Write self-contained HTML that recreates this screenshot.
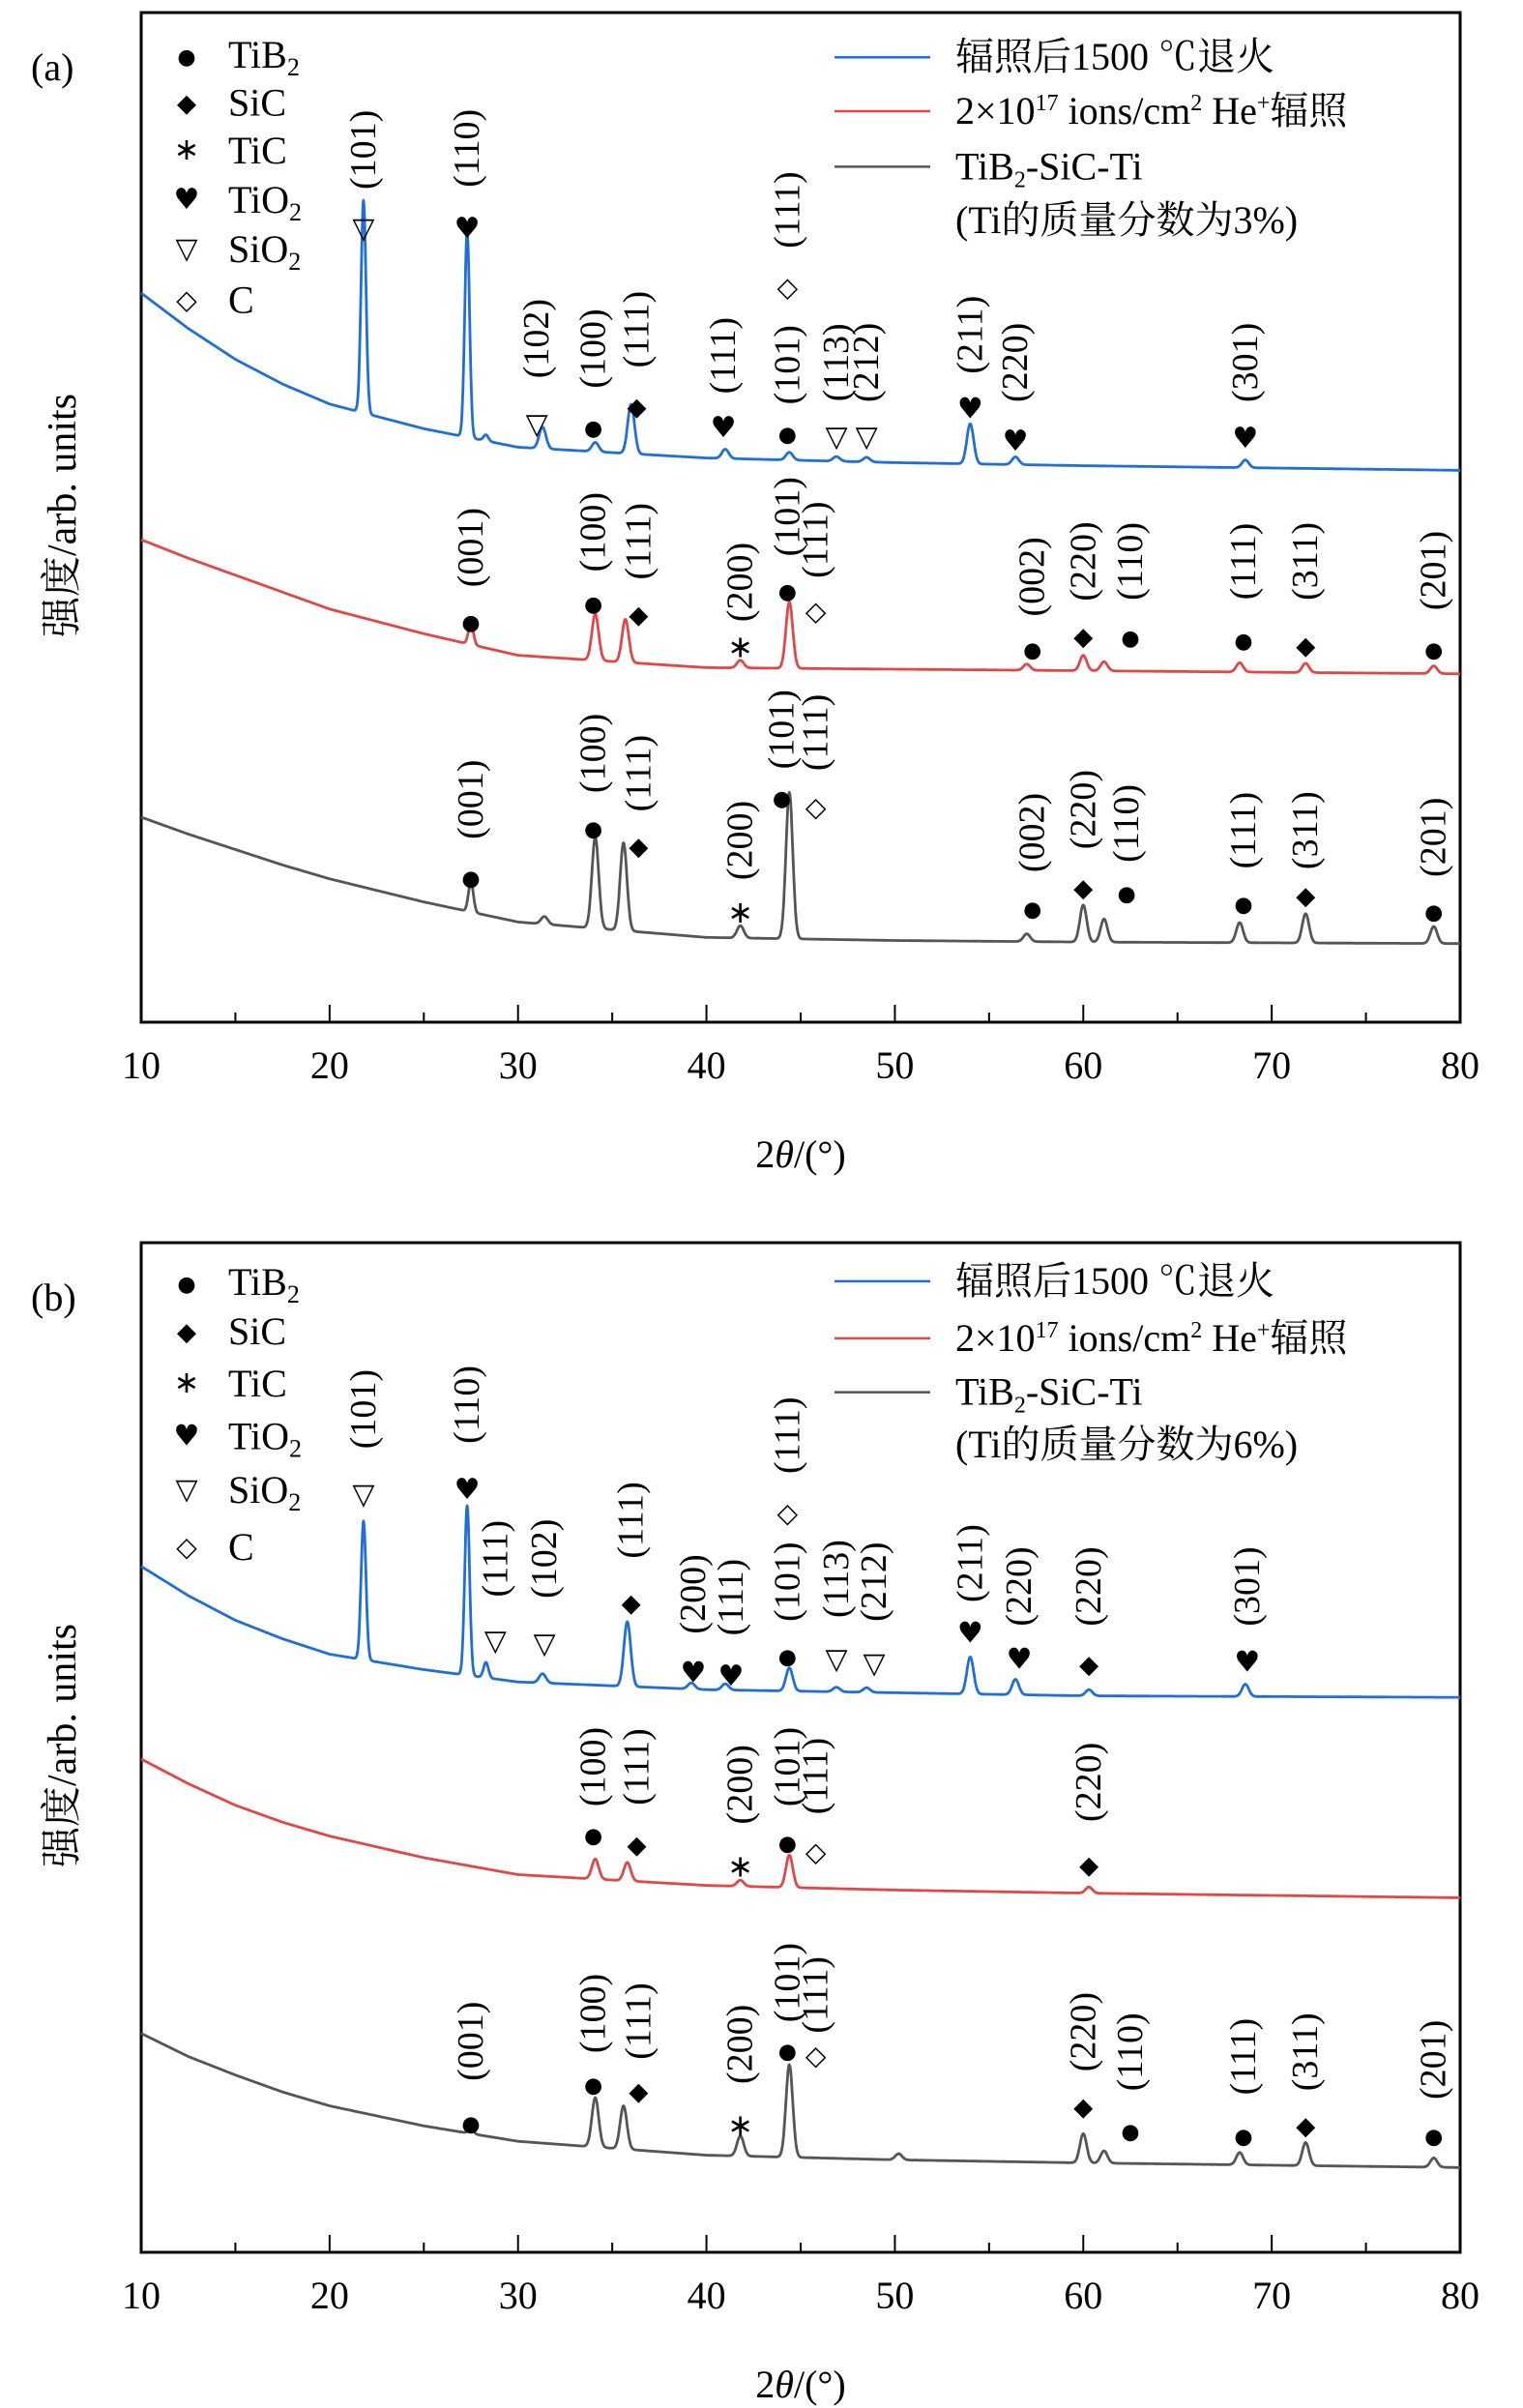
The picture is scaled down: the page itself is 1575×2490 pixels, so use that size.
<!DOCTYPE html>
<html><head><meta charset="utf-8">
<style>
html,body{margin:0;padding:0;background:#fff;}
svg{display:block;font-family:"Liberation Serif","Noto Serif CJK SC",serif;}
</style></head>
<body>
<svg id="chart" width="1575" height="2490" viewBox="0 0 1575 2490" xmlns="http://www.w3.org/2000/svg"></svg>
<script>
// ---- axis / tick data ----
const xTicks = [10,20,30,40,50,60,70,80];
const xMinor = [15,25,35,45,55,65,75];
// baseline sample points (2θ) and values (a.u.)
const baseX = [10,12.5,15,17.5,20,25,30,40,50,60,80];
// Panel a
const aBlueBase = [473,450,430,414,401,385,373,366,363,361,358];
const aRedBase  = [313,301,290,279,268,252,238,230,229,228,226];
const aGrayBase = [133,122,112,102,93,78,65,55,53,52,51];
const aBluePeakPos = [21.8,27.3,28.3,31.3,34.1,36.0,41.0,44.4,46.9,48.5,54.0,56.4,68.6];
const aBluePeakH   = [138,133,4,14,6,32,6,5,3,3,26,5,5];
const aRedPeakPos  = [27.5,34.1,35.7,41.8,44.4,57.0,60.0,61.1,68.3,71.8,78.6];
const aRedPeakH    = [14,30,28,5,43,4,10,6,6,6,5];
const aGrayPeakPos = [27.5,31.4,34.1,35.6,41.8,44.4,57.0,60.0,61.1,68.3,71.8,78.6];
const aGrayPeakH   = [20,5,59,57,8,95,5,24,15,13,19,11];
// Panel b
const bBlueBase = [445,426,410,398,388,378,370,365,363,361,360];
const bRedBase  = [320,304,290,279,270,256,245,238,235,233,230];
const bGrayBase = [142,127,115,104,95,82,72,63,60,58,55];
const bBluePeakPos = [21.8,27.3,28.3,31.3,35.8,39.2,41.0,44.4,46.9,48.5,54.0,56.4,60.3,68.6];
const bBluePeakH   = [90,110,10,6,42,4,4,15,3,3,24,10,4,8];
const bRedPeakPos  = [34.1,35.8,41.8,44.4,60.3];
const bRedPeakH    = [13,12,4,21,4];
const bGrayPeakPos = [27.5,34.1,35.6,41.8,44.4,50.2,60.0,61.1,68.3,71.8,78.6];
const bGrayPeakH   = [4,32,28,13,60,4,19,8,8,15,6];

const colors = ['#1f6fd6','#e04848','#555555'];

// annotations: [2θ, label bottom y (disp), label top y (disp), marker y (disp), label, symbol]
const annA = [
 [21.8,132,62,148,'(101)','▽'],[27.3,130,62,148,'(110)','♥'],[31.0,256,183,275,'(102)','▽'],
 [34.0,262,190,276,'(100)','●'],[36.3,250,177,263,'(111)','◆'],[40.9,265,196,277,'(111)','♥'],
 [44.3,268,205,280,'(101)','●'],[44.3,172,100,186,'(111)','◇'],[46.9,270,200,283,'(113)','▽'],
 [48.5,270,200,283,'(212)','▽'],[54.0,252,182,265,'(211)','♥'],[56.4,270,200,286,'(220)','♥'],
 [68.6,270,200,284,'(301)','♥'],
 [27.5,388,322,402,'(001)','●'],[34.0,378,312,390,'(100)','●'],[36.4,384,318,398,'(111)','◆'],
 [41.8,410,345,420,'(200)','∗'],[44.3,370,300,382,'(101)','●'],[45.8,385,315,396,'(111)','◇'],
 [57.3,408,340,420,'(002)','●'],[60.0,398,330,412,'(220)','◆'],[62.5,398,330,412,'(110)','●'],
 [68.5,398,330,414,'(111)','●'],[71.8,398,330,418,'(311)','◆'],[78.6,405,335,420,'(201)','●'],
 [27.5,552,485,568,'(001)','●'],[34.0,522,455,536,'(100)','●'],[36.4,535,468,548,'(111)','◆'],
 [41.8,578,512,592,'(200)','∗'],[44.0,506,440,516,'(101)','●'],[45.8,510,440,523,'(111)','◇'],
 [57.3,575,505,588,'(002)','●'],[60.0,560,490,575,'(220)','◆'],[62.3,568,500,578,'(110)','●'],
 [68.5,572,505,585,'(111)','●'],[71.8,572,505,580,'(311)','◆'],[78.6,576,510,590,'(201)','●']
];
const annB = [
 [21.8,958,888,978,'(101)','▽'],[27.3,955,885,975,'(110)','♥'],[28.8,1055,985,1073,'(111)','▽'],
 [31.4,1055,985,1075,'(102)','▽'],[36.0,1030,960,1048,'(111)','◆'],[39.3,1078,1008,1094,'(200)','♥'],
 [41.3,1080,1010,1096,'(111)','♥'],[44.3,1070,1000,1082,'(101)','●'],[44.3,975,905,990,'(111)','◇'],
 [46.9,1068,998,1085,'(113)','▽'],[48.9,1070,1000,1088,'(212)','▽'],[54.0,1058,988,1068,'(211)','♥'],
 [56.6,1073,1003,1085,'(220)','♥'],[60.3,1073,1003,1088,'(220)','◆'],[68.7,1073,1003,1087,'(301)','♥'],
 [34.0,1190,1120,1198,'(100)','●'],[36.3,1190,1120,1205,'(111)','◆'],[41.8,1200,1133,1220,'(200)','∗'],
 [44.3,1190,1120,1203,'(101)','●'],[45.8,1196,1126,1210,'(111)','◇'],[60.3,1200,1130,1218,'(220)','◆'],
 [27.5,1368,1298,1385,'(001)','●'],[34.0,1350,1280,1360,'(100)','●'],[36.4,1355,1285,1365,'(111)','◆'],
 [41.8,1370,1300,1388,'(200)','∗'],[44.3,1330,1260,1338,'(101)','●'],[45.8,1338,1268,1342,'(111)','◇'],
 [60.0,1362,1292,1375,'(220)','◆'],[62.5,1375,1305,1390,'(110)','●'],[68.5,1378,1308,1393,'(111)','●'],
 [71.8,1375,1305,1387,'(311)','◆'],[78.6,1380,1310,1393,'(201)','●']
];

const NS='http://www.w3.org/2000/svg';
const svg=document.getElementById('chart');
const L=146,R=1510;
const K=1.594;
const symSize={'●':22,'◆':26,'∗':32,'♥':30,'▽':30,'◇':28};
function xs(d){return L+(d-10)/70*(R-L);}
function mk(tag,attrs,parent){const e=document.createElementNS(NS,tag);for(const k in attrs)e.setAttribute(k,attrs[k]);(parent||svg).appendChild(e);return e;}
function interp(xa,ya,x){for(let i=0;i<xa.length-1;i++){if(x<=xa[i+1]){const t=(x-xa[i])/(xa[i+1]-xa[i]);return ya[i]+t*(ya[i+1]-ya[i]);}}return ya[ya.length-1];}
function val(base,pp,ph,x){let v=interp(baseX,base,x);for(let i=0;i<pp.length;i++){const s=(pp[i]<30?0.13:0.18);v+=ph[i]*Math.exp(-0.5*((x-pp[i])/s)**2);}return v;}

function panel(p){
  const top=p.top,bottom=p.top+1044;
  const dispToReal=y=>top+(y-p.dispTop)*K;
  const yv=v=>bottom-v*K;
  const g=mk('g',{});
  
  
  const frame=mk('rect',{x:L,y:top,width:R-L,height:bottom-top,fill:'none',stroke:'#000','stroke-width':3},g);
  
  
  p.series.forEach((s,si)=>{
    let d='';
    for(let x=10;x<=80.0001;x+=0.025){d+=(d?'L':'M')+xs(x).toFixed(1)+','+yv(val(s[0],s[1],s[2],x)).toFixed(1);}
    const path=mk('path',{d:d,fill:'none',stroke:colors[si],'stroke-width':2.8,'stroke-linejoin':'round'},g);
    
    
  });
  xTicks.forEach(t=>{
    const l=mk('line',{x1:xs(t),x2:xs(t),y1:bottom,y2:bottom-18,stroke:'#000','stroke-width':2},g);
    
    
    const tx=mk('text',{x:xs(t),y:bottom+58,'font-size':40,'text-anchor':'middle'},g);
    tx.textContent=t;
    
    
  });
  xMinor.forEach(t=>{
    const l=mk('line',{x1:xs(t),x2:xs(t),y1:bottom,y2:bottom-10,stroke:'#000','stroke-width':2},g);
    
    
  });
  const xl=mk('text',{x:(L+R)/2,y:bottom+150,'font-size':40,'text-anchor':'middle'},g);
  xl.innerHTML='2<tspan font-style="italic">θ</tspan>/(°)';
  
  
  const yc=top+520;
  const yl=mk('text',{x:0,y:0,'font-size':42,'text-anchor':'middle',transform:`translate(78,${yc}) rotate(-90)`},g);
  yl.textContent='强度/arb. units';
  
  
  const pl=mk('text',{x:32,y:top+70,'font-size':40},g);
  pl.textContent='('+p.id+')';
  
  
  const phases=['TiB<tspan font-size="26" dy="8">2</tspan>','SiC','TiC','TiO<tspan font-size="26" dy="8">2</tspan>','SiO<tspan font-size="26" dy="8">2</tspan>','C'];
  const syms=['●','◆','∗','♥','▽','◇'];
  p.legRows.forEach((ry,i)=>{
    const yy=dispToReal(ry);
    const s=mk('text',{x:193,y:yy+10,'font-size':symSize[syms[i]],'text-anchor':'middle','font-family':'DejaVu Sans, sans-serif'},g);
    s.textContent=syms[i];
    
    
    const t=mk('text',{x:236,y:yy+14,'font-size':40},g);
    t.innerHTML=phases[i];
    
    
  });
  const labs=['辐照后1500 ℃退火','2×10<tspan font-size="24" dy="-14">17</tspan><tspan dy="14"> ions/cm</tspan><tspan font-size="24" dy="-14">2</tspan><tspan dy="14"> He</tspan><tspan font-size="24" dy="-14">+</tspan><tspan dy="14">辐照</tspan>','TiB<tspan font-size="24" dy="8">2</tspan><tspan dy="-8">-SiC-Ti</tspan>'];
  for(let i=0;i<3;i++){
    const yy=dispToReal(p.serRows[i]);
    const ln=mk('line',{x1:863,x2:962,y1:yy,y2:yy,stroke:colors[i],'stroke-width':2.5},g);
    
    
    const t=mk('text',{x:988,y:yy+13,'font-size':40},g);
    t.innerHTML=labs[i];
    
    
  }
  const t4=mk('text',{x:988,y:dispToReal(p.serRows[3])+13,'font-size':40},g);
  t4.textContent='(Ti的质量分数为'+p.pct+')';
  
  
  p.ann.forEach(a=>{
    const x=xs(a[0]);
    const yb=dispToReal(a[1]),yt=dispToReal(a[2]);
    const t=mk('text',{x:0,y:0,'font-size':38,'text-anchor':'middle',transform:`translate(${x+12},${(yb+yt)/2}) rotate(-90)`},g);
    t.textContent=a[4];
    
    
    const s=mk('text',{x:x,y:dispToReal(a[3])+10,'font-size':symSize[a[5]],'text-anchor':'middle','font-family':'DejaVu Sans, sans-serif'},g);
    s.textContent=a[5];
    
    
  });
}
panel({id:'a',top:13,dispTop:8,pct:'3%',legRows:[35,66,97,129,161,194],serRows:[37,72,108,143],
  series:[[aBlueBase,aBluePeakPos,aBluePeakH],[aRedBase,aRedPeakPos,aRedPeakH],[aGrayBase,aGrayPeakPos,aGrayPeakH]],ann:annA});
panel({id:'b',top:1285,dispTop:815,pct:'6%',legRows:[840,872,906,940,975,1012],serRows:[840,877,912,946],
  series:[[bBlueBase,bBluePeakPos,bBluePeakH],[bRedBase,bRedPeakPos,bRedPeakH],[bGrayBase,bGrayPeakPos,bGrayPeakH]],ann:annB});
</script>
</body></html>
